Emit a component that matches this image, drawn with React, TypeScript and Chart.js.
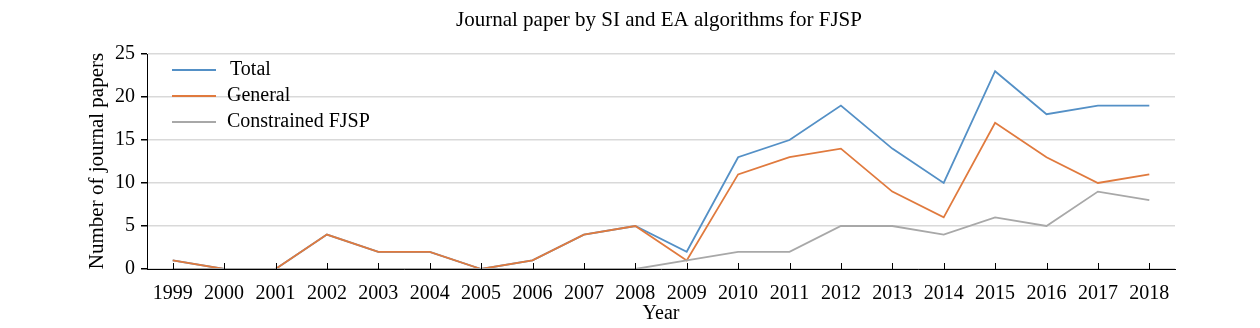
import React, { useEffect, useRef } from "react";
import { Chart, registerables } from "chart.js";

Chart.register(...registerables);

const years = ["1999","2000","2001","2002","2003","2004","2005","2006","2007","2008","2009","2010","2011","2012","2013","2014","2015","2016","2017","2018"];
const totalSeries = [1,0,0,4,2,2,0,1,4,5,2,13,15,19,14,10,23,18,19,19];
const generalSeries = [1,0,0,4,2,2,0,1,4,5,1,11,13,14,9,6,17,13,10,11];
const constrainedSeries = [0,0,0,0,0,0,0,0,0,0,1,2,2,5,5,4,6,5,9,8];
const seriesNames = ["Total", "General", "Constrained FJSP"];
const seriesColors = ["#5490C6", "#E07A3E", "#A8A8A8"];
const yTicks = [0, 5, 10, 15, 20, 25];

const chartTitle = "Journal paper by SI and EA algorithms for FJSP";
const xTitle = "Year";
const yTitle = "Number of journal papers";
const FONT = "'Liberation Serif', 'Times New Roman', serif";

const extrasPlugin = {
  id: "extras",
  afterDraw(chart: any) {
    const ctx = chart.ctx;
    const area = chart.chartArea;
    const xs = chart.scales.x;
    ctx.save();
    // inward x ticks
    ctx.strokeStyle = "#000";
    ctx.lineWidth = 1;
    for (let i = 0; i < years.length; i++) {
      const x = Math.round(xs.getPixelForValue(i)) + 0.5;
      ctx.beginPath();
      ctx.moveTo(x, area.bottom);
      ctx.lineTo(x, area.bottom - 6);
      ctx.stroke();
    }
    // title
    ctx.fillStyle = "#000";
    ctx.font = `21px ${FONT}`;
    ctx.textAlign = "center";
    ctx.textBaseline = "middle";
    ctx.fillText(chartTitle, 659, 20);
    // x title
    ctx.font = `20px ${FONT}`;
    ctx.fillText(xTitle, 661, 314);
    // y title
    ctx.save();
    ctx.translate(97, 161);
    ctx.rotate(-Math.PI / 2);
    ctx.font = `21px ${FONT}`;
    ctx.fillText(yTitle, 0, 0);
    ctx.restore();
    // legend
    ctx.font = `20px ${FONT}`;
    ctx.textAlign = "left";
    const ly = [70, 96, 122];
    for (let i = 0; i < seriesNames.length; i++) {
      ctx.strokeStyle = seriesColors[i];
      ctx.lineWidth = 1.8;
      ctx.beginPath();
      ctx.moveTo(172, ly[i]);
      ctx.lineTo(216, ly[i]);
      ctx.stroke();
      ctx.fillStyle = "#000";
      ctx.fillText(seriesNames[i], i === 0 ? 230 : 227, ly[i]);
    }
    ctx.restore();
  },
};

export default function App() {
  const ref = useRef<HTMLCanvasElement | null>(null);
  useEffect(() => {
    const canvas = ref.current;
    if (!canvas) return;
    const chart = new Chart(canvas, {
      type: "line",
      data: {
        labels: years,
        datasets: [
          { label: seriesNames[0], data: totalSeries, borderColor: seriesColors[0], borderWidth: 1.8, pointRadius: 0, order: 2, tension: 0 },
          { label: seriesNames[1], data: generalSeries, borderColor: seriesColors[1], borderWidth: 1.8, pointRadius: 0, order: 1, tension: 0 },
          { label: seriesNames[2], data: constrainedSeries, borderColor: seriesColors[2], borderWidth: 1.8, pointRadius: 0, order: 0, tension: 0 },
        ],
      },
      options: {
        animation: false,
        responsive: false,
        maintainAspectRatio: false,
        layout: { padding: { top: 54, right: 85, left: 0, bottom: 0 } },
        plugins: { legend: { display: false }, title: { display: false }, tooltip: { enabled: false } },
        scales: {
          x: {
            offset: true,
            grid: { display: false, drawTicks: false },
            border: { display: true, color: "#000", width: 1 },
            ticks: { color: "#000", font: { family: FONT, size: 20 }, padding: 13, maxRotation: 0, autoSkip: false },
            afterFit(scale: any) { scale.height = 59; },
          },
          y: {
            min: 0,
            max: 25,
            afterBuildTicks(scale: any) { scale.ticks = yTicks.map((v) => ({ value: v })); },
            grid: { color: "#D9D9D9", lineWidth: 1.5, tickColor: "#000", tickLength: 6, drawTicks: true },
            border: { display: true, color: "#000", width: 1 },
            ticks: { color: "#000", font: { family: FONT, size: 20 }, padding: 6 },
            afterFit(scale: any) { scale.width = 147; },
          },
        },
      },
      plugins: [extrasPlugin],
    });
    return () => chart.destroy();
  }, []);
  return (
    <div style={{ position: "fixed", left: 0, top: 0, width: 1260, height: 328, background: "#fff" }}>
      <canvas ref={ref} width={1260} height={328} style={{ width: 1260, height: 328, display: "block" }} />
    </div>
  );
}
